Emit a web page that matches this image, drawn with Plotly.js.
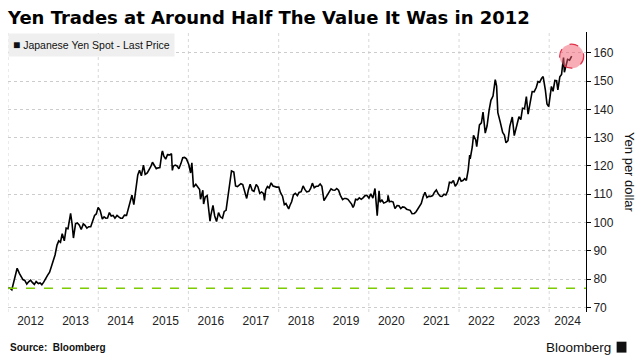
<!DOCTYPE html>
<html>
<head>
<meta charset="utf-8">
<script src="https://cdn.plot.ly/plotly-3.0.1.min.js"></script>
<style>html,body{margin:0;padding:0;background:#fff;}#chart{width:641px;height:364px;}</style>
</head>
<body>
<div id="chart"></div>
<script>
// ---- Data ----
const dates = [
"2012-01-02","2012-01-16","2012-02-01","2012-02-16","2012-03-01","2012-03-15","2012-04-02","2012-04-16","2012-05-01","2012-05-16","2012-06-01","2012-06-16","2012-07-02","2012-07-16","2012-08-01","2012-08-16","2012-09-03","2012-09-17","2012-10-01","2012-10-16","2012-11-01","2012-11-16","2012-12-03","2012-12-17",
"2013-01-02","2013-01-16","2013-02-01","2013-02-15","2013-03-01","2013-03-15","2013-04-01","2013-04-16","2013-05-01","2013-05-16","2013-05-22","2013-06-03","2013-06-14","2013-07-01","2013-07-16","2013-08-01","2013-08-16","2013-09-02","2013-09-16","2013-10-01","2013-10-16","2013-11-01","2013-11-15","2013-12-02","2013-12-16","2013-12-31",
"2014-01-16","2014-02-03","2014-02-17","2014-03-03","2014-03-17","2014-04-01","2014-04-16","2014-05-01","2014-05-16","2014-06-02","2014-06-16","2014-07-01","2014-07-16","2014-08-01","2014-08-18","2014-09-01","2014-09-16","2014-10-01","2014-10-16","2014-11-03","2014-11-17","2014-12-01","2014-12-16",
"2015-01-02","2015-01-16","2015-02-02","2015-02-16","2015-03-02","2015-03-16","2015-04-01","2015-04-16","2015-05-01","2015-05-15","2015-06-01","2015-06-05","2015-06-16","2015-07-01","2015-07-16","2015-08-03","2015-08-17","2015-08-24","2015-09-01","2015-09-16","2015-10-01","2015-10-16","2015-11-02","2015-11-16","2015-12-01","2015-12-16",
"2016-01-04","2016-01-19","2016-01-29","2016-02-11","2016-03-01","2016-03-16","2016-04-01","2016-04-08","2016-04-27","2016-05-03","2016-05-16","2016-06-01","2016-06-16","2016-06-24","2016-07-01","2016-07-18","2016-08-01","2016-08-16","2016-09-01","2016-09-16","2016-10-03","2016-10-17","2016-11-01","2016-11-16","2016-12-01","2016-12-15",
"2017-01-03","2017-01-17","2017-02-01","2017-02-16","2017-03-01","2017-03-16","2017-04-03","2017-04-17","2017-05-01","2017-05-15","2017-06-01","2017-06-15","2017-07-03","2017-07-17","2017-08-01","2017-08-16","2017-09-01","2017-09-08","2017-09-18","2017-10-02","2017-10-16","2017-11-01","2017-11-16","2017-12-01","2017-12-15",
"2018-01-02","2018-01-16","2018-02-01","2018-02-16","2018-03-01","2018-03-23","2018-04-02","2018-04-16","2018-05-01","2018-05-16","2018-06-01","2018-06-15","2018-07-02","2018-07-18","2018-08-01","2018-08-16","2018-09-03","2018-09-17","2018-10-01","2018-10-16","2018-11-01","2018-11-16","2018-12-03","2018-12-17",
"2019-01-03","2019-01-16","2019-02-01","2019-02-15","2019-03-01","2019-03-15","2019-04-01","2019-04-16","2019-05-01","2019-05-16","2019-06-03","2019-06-17","2019-07-01","2019-07-16","2019-08-01","2019-08-16","2019-08-26","2019-09-03","2019-09-16","2019-10-01","2019-10-16","2019-11-01","2019-11-15","2019-12-02","2019-12-16",
"2020-01-02","2020-01-17","2020-02-03","2020-02-20","2020-03-02","2020-03-09","2020-03-24","2020-04-01","2020-04-16","2020-05-01","2020-05-15","2020-06-01","2020-06-05","2020-06-16","2020-07-01","2020-07-16","2020-07-31","2020-08-17","2020-09-01","2020-09-16","2020-10-01","2020-10-16","2020-11-02","2020-11-16","2020-12-01","2020-12-16",
"2021-01-04","2021-01-18","2021-02-01","2021-02-16","2021-03-01","2021-03-16","2021-03-31","2021-04-16","2021-05-03","2021-05-17","2021-06-01","2021-06-16","2021-07-01","2021-07-16","2021-08-02","2021-08-16","2021-09-01","2021-09-16","2021-10-01","2021-10-15","2021-11-01","2021-11-16","2021-12-01","2021-12-16",
"2022-01-04","2022-01-18","2022-02-01","2022-02-16","2022-03-01","2022-03-16","2022-03-28","2022-04-01","2022-04-18","2022-04-28","2022-05-16","2022-05-24","2022-06-01","2022-06-15","2022-07-01","2022-07-14","2022-08-01","2022-08-16","2022-09-01","2022-09-16","2022-10-03","2022-10-21","2022-11-01","2022-11-11","2022-12-01","2022-12-20",
"2023-01-03","2023-01-16","2023-02-01","2023-02-16","2023-03-01","2023-03-08","2023-03-24","2023-04-03","2023-04-17","2023-05-01","2023-05-16","2023-05-30","2023-06-15","2023-06-30","2023-07-14","2023-08-01","2023-08-16","2023-09-01","2023-09-18","2023-10-02","2023-10-16","2023-11-01","2023-11-13","2023-12-01","2023-12-14","2023-12-28",
"2024-01-10","2024-01-19","2024-02-01","2024-02-16","2024-03-01","2024-03-11","2024-03-27","2024-04-10","2024-04-16","2024-04-26","2024-05-03","2024-05-16","2024-05-29","2024-06-14","2024-07-01"
];
const yenPerDollar = [
76.7,76.8,76.2,79.0,81.0,83.8,82.0,80.8,79.8,79.5,78.2,79.0,79.6,78.8,78.1,79.1,78.4,78.6,78.0,78.9,79.9,81.3,82.4,84.5,
87.0,88.5,92.0,93.5,93.0,96.0,93.5,98.0,97.8,102.5,103.2,99.5,94.5,99.5,99.8,99.0,97.5,99.5,99.0,98.0,98.5,98.5,100.2,102.5,103.0,105.3,
104.3,101.2,102.0,101.5,101.6,103.5,102.3,102.5,101.5,102.5,102.0,101.5,101.5,102.6,102.5,104.8,107.2,109.7,106.3,113.5,116.8,118.5,116.5,
120.3,117.0,117.5,118.5,119.7,121.3,119.8,119.0,119.3,119.4,124.8,125.3,123.4,122.4,124.0,123.9,124.3,118.4,119.9,120.3,120.0,119.0,120.9,122.9,123.0,122.5,
120.5,117.5,121.1,112.5,113.5,112.6,111.6,108.2,111.4,106.5,109.0,109.5,104.5,100.5,102.6,106.0,102.3,100.3,103.5,102.0,101.5,103.9,104.3,109.5,114.5,118.2,
117.8,112.9,112.7,113.2,113.7,113.4,111.0,108.5,111.5,113.5,111.3,111.0,113.4,112.6,110.3,110.8,110.2,107.8,111.5,112.7,112.2,114.0,112.9,112.6,112.5,
112.5,110.5,109.3,106.3,106.7,104.8,106.0,107.3,109.8,110.3,109.5,110.6,110.9,112.9,111.7,110.8,111.0,112.0,113.9,112.3,112.8,112.8,113.6,112.8,
107.7,108.7,109.5,110.5,111.9,111.5,111.4,112.0,111.4,109.6,108.1,108.5,108.5,108.2,107.4,106.4,105.3,106.0,108.2,108.0,108.7,108.2,108.7,109.5,109.6,
108.6,110.1,108.6,112.0,107.0,102.4,111.2,107.2,107.9,106.9,107.1,107.6,109.6,107.3,107.5,107.2,104.9,106.0,105.9,104.9,105.5,105.4,104.7,104.6,104.3,103.1,
103.2,103.8,104.9,106.0,106.7,109.1,110.7,108.8,109.3,109.2,109.5,110.7,111.5,110.1,109.3,109.2,110.0,109.7,111.1,114.2,114.0,114.8,112.8,113.7,
116.1,114.6,114.8,115.5,114.9,118.6,123.8,122.5,126.7,130.8,129.2,126.8,130.0,134.5,135.2,139.0,131.6,134.2,139.6,143.2,144.7,150.5,148.2,138.8,135.4,131.8,
130.9,128.2,128.9,134.0,136.2,137.3,130.7,132.5,134.5,137.4,136.4,140.4,140.2,144.5,138.3,143.3,146.3,146.2,147.7,149.8,149.6,151.0,151.6,146.8,141.9,141.0,
145.2,148.1,146.4,150.2,150.1,146.9,151.5,152.3,154.7,158.3,153.1,155.4,157.7,157.4,158.8
];
const yearLabels = ["2012","2013","2014","2015","2016","2017","2018","2019","2020","2021","2022","2023","2024"];
const gridYears = ["2012","2014","2016","2018","2020","2022","2024"];
const yTicks = [70,80,90,100,110,120,130,140,150,160];

// ---- Axis geometry ----
const xStart = "2012-01-01", xEnd = "2024-10-25";
const tickVals = yearLabels.map(y => {
  if (y === "2024") {
    const a = new Date("2024-01-01").getTime(), b = new Date(xEnd).getTime();
    return new Date((a + b) / 2).toISOString().slice(0, 10);
  }
  return y + "-07-01";
});

const lastX = dates[dates.length - 1], lastY = yenPerDollar[yenPerDollar.length - 1];

const shapes = [];
gridYears.forEach(y => shapes.push({
  type: "line", xref: "x", yref: "paper", x0: y + "-01-01", x1: y + "-01-01", y0: 0, y1: 1,
  line: {color: "#d8d8d8", width: 1, dash: "dot"}, layer: "below"
}));
// reference level: the 2012 value
shapes.push({
  type: "line", xref: "paper", yref: "y", x0: 0, x1: 1, y0: yenPerDollar[0], y1: yenPerDollar[0],
  line: {color: "#7dcc00", width: 1.5, dash: "dash"}
});
// highlight circle on latest point
shapes.push({
  type: "circle", xref: "x", yref: "y", xsizemode: "pixel", ysizemode: "pixel",
  xanchor: lastX, yanchor: lastY, x0: -12, x1: 12, y0: -12, y1: 12,
  fillcolor: "rgba(240,90,110,0.5)", line: {color: "#e0304a", width: 1.2, dash: "dash"}
});
// Bloomberg logo mark
shapes.push({
  type: "rect", xref: "paper", yref: "paper", x0: 1.053, x1: 1.070, y0: -0.145, y1: -0.106,
  fillcolor: "#111", line: {width: 0}
});

const trace = {
  x: dates, y: yenPerDollar, type: "scatter", mode: "lines",
  line: {color: "#000", width: 1.6}, hoverinfo: "skip", showlegend: false
};

const layout = {
  width: 641, height: 364,
  margin: {l: 8, r: 55, t: 32, b: 52},
  paper_bgcolor: "#fff", plot_bgcolor: "#fff",
  font: {family: "Liberation Sans, Arial, sans-serif", color: "#222", size: 11},
  title: {
    text: "<b>Yen Trades at Around Half The Value It Was in 2012</b>",
    x: 0.0125, xanchor: "left", y: 0.952, yanchor: "middle",
    font: {family: "DejaVu Sans, sans-serif", size: 18, color: "#000"}
  },
  xaxis: {
    type: "date", range: [xStart, xEnd],
    tickmode: "array", tickvals: tickVals, ticktext: yearLabels,
    showgrid: false, zeroline: false, showline: false, ticks: "",
    tickfont: {size: 12, color: "#222"}, fixedrange: true
  },
  yaxis: {
    side: "right", range: [68.34, 167.35],
    tickmode: "array", tickvals: yTicks,
    showgrid: true, gridcolor: "#cccccc", griddash: "dot", gridwidth: 1,
    showline: true, linecolor: "#000", linewidth: 1,
    ticks: "outside", ticklen: 4, tickcolor: "#000",
    tickfont: {size: 12, color: "#222"}, zeroline: false, fixedrange: true
  },
  shapes: shapes,
  annotations: [
    {xref: "paper", yref: "paper", x: 0, y: 1, xanchor: "left", yanchor: "top", yshift: -1,
     text: "<span style='font-size:12px'>■</span> Japanese Yen Spot - Last Price", showarrow: false,
     bgcolor: "#efefef", borderpad: 4, font: {size: 10.5, color: "#111"}},
    {xref: "paper", yref: "paper", x: 1.05, y: 0.5, xanchor: "center", yanchor: "middle", xshift: 15,
     text: "Yen per dollar", textangle: 90, showarrow: false, font: {size: 13, color: "#111"}},
    {xref: "paper", yref: "paper", x: 0, y: -0.125, xanchor: "left", yanchor: "middle",
     text: "<b>Source:  Bloomberg</b>", showarrow: false, font: {size: 10, color: "#111"}},
    {xref: "paper", yref: "paper", x: 1.046, y: -0.125, xanchor: "right", yanchor: "middle",
     text: "Bloomberg", showarrow: false, font: {size: 13.5, color: "#111"}}
  ]
};

Plotly.newPlot("chart", [trace], layout, {displayModeBar: false, staticPlot: true});
</script>
</body>
</html>
